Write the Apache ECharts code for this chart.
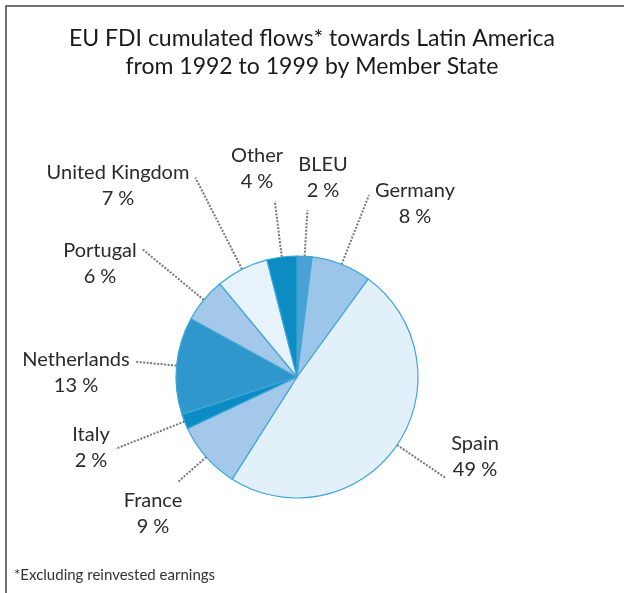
<!DOCTYPE html>
<html>
<head>
<meta charset="utf-8">
<script src="https://cdn.jsdelivr.net/npm/echarts@6/dist/echarts.min.js"></script>
<style>
  html, body { margin: 0; padding: 0; background: #fff; }
  #chart { width: 624px; height: 593px; }
</style>
</head>
<body>
<div id="chart"></div>
<script>
// EU FDI flows to Latin America 1992-1999, share by member state (%)
const states = ['BLEU', 'Germany', 'Spain', 'France', 'Italy', 'Netherlands', 'Portugal', 'United Kingdom', 'Other']
const shares = [2, 8, 49, 9, 2, 13, 6, 7, 4]
const sliceColors = ['#4aa2d4', '#9cc5ea', '#e2f0fa', '#a3c8ea', '#0b8cc2', '#2f97cc', '#a3c8ea', '#e8f2fb', '#0b8cc2']

// where each label sits (centre of the text block), layout only
const labelAnchors = [[323, 178], [415, 204], [475, 457], [153, 514], [91, 448], [76, 373], [100, 264], [118, 186], [257, 169]]

const FONT = 'Lato'
const CX = 297
const CY = 377
const R = 121

// first hit of the ray p + t*d with a box, or null
function rayBox(p, d, box) {
  let tmin = 0
  let tmax = Infinity
  for (let k = 0; k < 2; k++) {
    const lo = box[k][0]
    const hi = box[k][1]
    if (Math.abs(d[k]) < 1e-9) {
      if (p[k] < lo || p[k] > hi) return null
    } else {
      const t1 = (lo - p[k]) / d[k]
      const t2 = (hi - p[k]) / d[k]
      tmin = Math.max(tmin, Math.min(t1, t2))
      tmax = Math.min(tmax, Math.max(t1, t2))
    }
  }
  return tmin <= tmax ? tmin : null
}

const chart = echarts.init(document.getElementById('chart'))

chart.setOption({
  animation: false,
  title: {
    text: 'EU FDI cumulated flows* towards Latin America\nfrom 1992 to 1999 by Member State',
    left: 'center',
    top: 25,
    padding: [0, 0, 0, 10],
    textStyle: {
      fontFamily: FONT,
      fontSize: 23,
      fontWeight: 'normal',
      lineHeight: 28,
      color: '#1a1a1a'
    }
  },
  graphic: [
    {
      type: 'polyline',
      shape: { points: [[6, 593], [6, 6], [624, 6]] },
      style: { stroke: '#444', lineWidth: 1.5, fill: null }
    },
    {
      type: 'text',
      left: 14,
      top: 568,
      style: {
        text: '*Excluding reinvested earnings',
        fontFamily: FONT,
        fontSize: 15,
        fill: '#333'
      }
    }
  ],
  series: [{
    type: 'pie',
    center: [CX, CY],
    radius: R,
    startAngle: 90,
    clockwise: true,
    avoidLabelOverlap: false,
    data: states.map((name, i) => ({
      name: name,
      value: shares[i],
      itemStyle: { color: sliceColors[i] }
    })),
    itemStyle: {
      borderColor: '#3fa6d8',
      borderWidth: 1.2
    },
    emphasis: { disabled: true },
    label: {
      show: true,
      position: 'outside',
      formatter: '{b}\n{c} %',
      fontFamily: FONT,
      fontSize: 20,
      lineHeight: 26,
      color: '#2a2a2a',
      align: 'center'
    },
    labelLine: {
      show: true,
      length: 20,
      length2: 0,
      lineStyle: {
        color: '#777',
        width: 2,
        type: [2, 1.5]
      }
    },
    labelLayout: function (params) {
      const i = params.dataIndex
      const c = labelAnchors[i]
      const w = params.labelRect.width
      const h = params.labelRect.height
      const p0 = params.labelLinePoints[0]
      let dx = p0[0] - CX
      let dy = p0[1] - CY
      const len = Math.sqrt(dx * dx + dy * dy)
      dx /= len
      dy /= len
      const m = 6
      const box = [[c[0] - w / 2 - m, c[0] + w / 2 + m], [c[1] - h / 2 - m, c[1] + h / 2 + m]]
      let t = rayBox(p0, [dx, dy], box)
      if (t === null) t = (c[0] - p0[0]) * dx + (c[1] - p0[1]) * dy
      const end = [p0[0] + dx * t, p0[1] + dy * t]
      return {
        x: c[0],
        y: c[1],
        align: 'center',
        verticalAlign: 'middle',
        labelLinePoints: [p0, end, end]
      }
    }
  }]
})
</script>
</body>
</html>
